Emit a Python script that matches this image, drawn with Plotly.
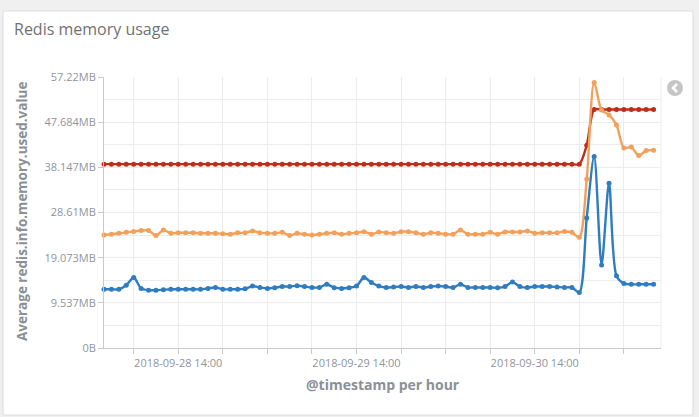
import pandas as pd
import plotly.graph_objects as go

# ---- data (values in millions of bytes) ----
start_time = "2018-09-28 04:00"
n_points = 75

blue_mb = [13.0, 13.0, 13.0, 13.9, 15.6, 13.2, 12.8, 12.8, 12.9, 13.0,
           13.0, 13.0, 13.0, 13.0, 13.2, 13.4, 13.0, 13.0, 13.0, 13.1,
           13.7, 13.4, 13.2, 13.35, 13.6, 13.6, 13.8, 13.6, 13.4, 13.4,
           14.1, 13.35, 13.2, 13.35, 13.7, 15.6, 14.5, 13.7, 13.4, 13.5,
           13.6, 13.4, 13.6, 13.4, 13.6, 13.7, 13.6, 13.4, 14.1, 13.4,
           13.4, 13.4, 13.4, 13.35, 13.6, 14.6, 13.6, 13.4, 13.6,
           13.6, 13.6, 13.5, 13.4, 13.4, 12.3,
           28.8, 42.4, 18.4, 36.5, 16.0, 14.3, 14.1, 14.1, 14.1, 14.1]

orange_mb = [25.0, 25.2, 25.4, 25.6, 25.8, 26.0, 26.0, 24.9, 26.1, 25.4,
             25.5, 25.5, 25.5, 25.4, 25.4, 25.4, 25.3, 25.2, 25.5, 25.5,
             25.9, 25.5, 25.4, 25.4, 25.6, 24.9, 25.4, 25.2, 25.0, 25.2,
             25.4, 25.5, 25.2, 25.4, 25.5, 25.75, 25.2, 25.7, 25.5, 25.4,
             25.75, 25.75, 25.5, 25.2, 25.5, 25.4, 25.2, 25.2, 26.1, 25.2,
             25.2, 25.2, 25.6, 25.2, 25.7, 25.7, 25.7, 25.9, 25.4,
             25.5, 25.5, 25.5, 25.8, 25.6, 24.5,
             37.4, 58.8, 52.7, 51.6, 49.4, 44.3, 44.5, 42.6, 43.7, 43.8]

red_mb = [40.7, 40.7, 40.7, 40.7, 40.7, 40.7, 40.7, 40.7, 40.7, 40.7,
          40.7, 40.7, 40.7, 40.7, 40.7, 40.7, 40.7, 40.7, 40.7, 40.7,
          40.7, 40.7, 40.7, 40.7, 40.7, 40.7, 40.7, 40.7, 40.7, 40.7,
          40.7, 40.7, 40.7, 40.7, 40.7, 40.7, 40.7, 40.7, 40.7, 40.7,
          40.7, 40.7, 40.7, 40.7, 40.7, 40.7, 40.7, 40.7, 40.7, 40.7,
          40.7, 40.7, 40.7, 40.7, 40.7, 40.7, 40.7, 40.7, 40.7, 40.7,
          40.7, 40.7, 40.7, 40.7, 40.7,
          44.9, 52.8, 52.8, 52.8, 52.8, 52.8, 52.8, 52.8, 52.8, 52.8]

y_tick_values = [0, 10e6, 20e6, 30e6, 40e6, 50e6, 60e6]
y_tick_labels = ["0B", "9.537MB", "19.073MB", "28.61MB", "38.147MB", "47.684MB", "57.22MB"]
x_tick_values = ["2018-09-28 14:00", "2018-09-29 14:00", "2018-09-30 14:00"]
x_tick_labels = ["2018-09-28 14:00", "2018-09-29 14:00", "2018-09-30 14:00"]

times = pd.date_range(start_time, periods=n_points, freq="h")

W, H = 699, 417
L, R, T, B = 104, 38, 77, 69
pw, ph = W - L - R, H - T - B


def px(x):
    return (x - L) / pw


def py(y):
    return (H - B - y) / ph


FONT = "Open Sans"
TICK_COLOR = "#8f959b"
AXIS_COLOR = "#c9c9c9"
GRID_COLOR = "#ececec"

fig = go.Figure()
series = [
    (red_mb, "#bd2f1b"),
    (orange_mb, "#f2a05a"),
    (blue_mb, "#2f7dc0"),
]
for vals, col in series:
    fig.add_trace(go.Scatter(
        x=times, y=[v * 1e6 for v in vals], mode="lines+markers",
        line=dict(color=col, width=2.4, shape="spline", smoothing=0.8),
        marker=dict(color=col, size=5),
        cliponaxis=False, showlegend=False, hoverinfo="skip",
    ))

shapes = [
    # card
    dict(type="rect", xref="paper", yref="paper", layer="below",
         x0=px(3), x1=px(693), y0=py(415), y1=py(11),
         fillcolor="white", line=dict(color="#dcdcdc", width=1)),
    # right border of plot area
    dict(type="line", xref="paper", yref="paper", layer="below",
         x0=1, x1=1, y0=0, y1=1, line=dict(color=GRID_COLOR, width=1)),
    # collapse icon
    dict(type="circle", xref="paper", yref="paper", layer="above",
         x0=px(667), x1=px(683), y0=py(96), y1=py(80),
         fillcolor="#c6c6c6", line=dict(width=0)),
    dict(type="path", xref="paper", yref="paper", layer="above",
         path=f"M {px(677)},{py(84)} L {px(673)},{py(88)} L {px(677)},{py(92)}",
         line=dict(color="white", width=2.5)),
]

annotations = [
    dict(text="Redis memory usage", xref="paper", yref="paper",
         x=px(12), y=py(29), xanchor="left", yanchor="middle", showarrow=False,
         font=dict(family=FONT, size=16, color="#727272")),
    dict(text="Average redis.info.memory.used.value", xref="paper", yref="paper",
         x=px(22), y=py(212), xanchor="center", yanchor="middle", textangle=-90,
         showarrow=False, font=dict(family=FONT, size=13.5, color="#8a9096", weight="bold")),
    dict(text="@timestamp per hour", xref="paper", yref="paper",
         x=px(383), y=py(384), xanchor="center", yanchor="middle",
         showarrow=False, font=dict(family=FONT, size=14, color="#8a9096", weight="bold")),
]

fig.update_layout(
    width=W, height=H,
    margin=dict(l=L, r=R, t=T, b=B, pad=0),
    paper_bgcolor="#f0f0f0", plot_bgcolor="white",
    font=dict(family=FONT, color=TICK_COLOR, size=11),
    shapes=shapes, annotations=annotations,
    xaxis=dict(
        type="date", range=["2018-09-28 04:00", "2018-10-01 07:00"],
        tickmode="array", tickvals=x_tick_values, ticktext=x_tick_labels,
        ticks="outside", ticklen=5, tickcolor=AXIS_COLOR,
        showline=True, linecolor=AXIS_COLOR, linewidth=1,
        showgrid=True, gridcolor=GRID_COLOR, zeroline=False,
        tickfont=dict(family=FONT, size=11, color=TICK_COLOR),
        minor=dict(dtick=6 * 3600 * 1000, tick0="2018-09-28 02:00",
                   showgrid=True, gridcolor=GRID_COLOR,
                   ticks="outside", ticklen=5, tickcolor=AXIS_COLOR),
    ),
    yaxis=dict(
        range=[0, 60e6],
        tickmode="array", tickvals=y_tick_values, ticktext=y_tick_labels,
        ticks="outside", ticklen=5, tickcolor=AXIS_COLOR,
        showline=True, linecolor=AXIS_COLOR, linewidth=1,
        showgrid=True, gridcolor=GRID_COLOR, zeroline=False,
        tickfont=dict(family=FONT, size=11, color=TICK_COLOR),
        minor=dict(dtick=5e6, tick0=0, showgrid=True, gridcolor=GRID_COLOR,
                   ticks=""),
    ),
)

fig.write_html(
    "out.html",
    config={"displayModeBar": False},
    post_script="document.body.style.margin='0';document.body.style.overflow='hidden';",
)
